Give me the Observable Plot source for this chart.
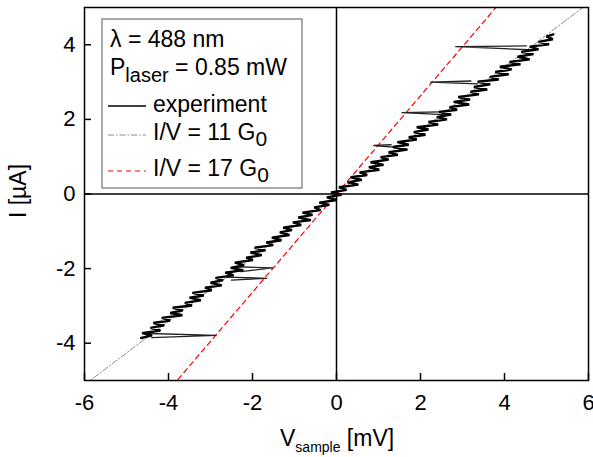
<!DOCTYPE html>
<html><head><meta charset="utf-8">
<script src="https://cdn.jsdelivr.net/npm/d3@7"></script>
<script src="https://cdn.jsdelivr.net/npm/@observablehq/plot@0.6"></script>
<style>body{margin:0;background:#fff} svg{display:block}</style>
</head><body><div id="chart"></div>
<script>
// conductance quantum in mS (= µA per mV)
const G0 = 0.0774809;
const xTicks = [-6, -4, -2, 0, 2, 4, 6];
const yTicks = [-4, -2, 0, 2, 4];
const refG = [11, 17];
const refV = [-6, 6];

// experiment trace (V in mV, I in µA)
const traceV = [-4.65,-4.39,-4.63,-4.19,-4.43,-4.10,-4.36,-3.96,-4.16,-3.67,
-3.96,-3.66,-3.90,-3.44,-3.61,-3.23,-3.50,-3.16,-3.43,-2.97,
-3.13,-2.73,-3.00,-2.70,-2.88,-2.45,-2.65,-2.22,-2.52,-2.20,
-2.42,-1.99,-2.15,-1.78,-2.05,-1.69,-1.95,-1.51,-1.67,-1.31,
-1.54,-1.12,-1.35,-1.06,-1.27,-0.84,-1.04,-0.61,-0.91,-0.57,
-0.81,-0.38,-0.53,-0.17,-0.41,0.01,-0.23,0.12,-0.13,0.24,
0.06,0.52,0.26,0.60,0.34,0.73,0.55,1.02,0.77,1.12,
0.81,1.24,1.05,1.46,1.24,1.69,1.34,1.72,1.45,1.91,
1.72,2.12,1.84,2.19,1.91,2.42,2.19,2.63,2.39,2.73,
2.44,2.87,2.69,3.16,2.79,3.18,2.90,3.39,3.19,3.59,
3.27,3.66,3.36,3.86,3.65,4.10,3.78,4.17,3.89,4.38,
4.12,4.60,4.31,4.69,4.40,4.81,4.60,5.06,4.81,5.15,
5.00,5.16];
const traceI = [-3.86,-3.79,-3.73,-3.66,-3.59,-3.52,-3.46,-3.39,-3.32,-3.25,
-3.19,-3.12,-3.05,-2.99,-2.92,-2.85,-2.78,-2.72,-2.65,-2.58,
-2.51,-2.45,-2.38,-2.31,-2.25,-2.18,-2.11,-2.04,-1.98,-1.91,
-1.84,-1.77,-1.71,-1.64,-1.57,-1.51,-1.44,-1.37,-1.30,-1.24,
-1.17,-1.10,-1.03,-0.97,-0.90,-0.83,-0.76,-0.70,-0.63,-0.56,
-0.50,-0.43,-0.36,-0.29,-0.23,-0.16,-0.09,-0.02,0.04,0.11,
0.18,0.25,0.31,0.38,0.45,0.51,0.58,0.65,0.72,0.78,
0.85,0.92,0.99,1.05,1.12,1.19,1.26,1.32,1.39,1.46,
1.52,1.59,1.66,1.73,1.79,1.86,1.93,2.00,2.06,2.13,
2.20,2.26,2.33,2.40,2.47,2.53,2.60,2.67,2.74,2.80,
2.87,2.94,3.01,3.07,3.14,3.21,3.27,3.34,3.41,3.48,
3.54,3.61,3.68,3.75,3.81,3.88,3.95,4.01,4.08,4.15,
4.22,4.28];

// switching jumps (narrow horizontal loops)
const jumpId = [1,1,1, 2,2,2, 3,3,3, 4,4,4, 5,5,5, 6,6,6, 7,7,7];
const jumpV = [4.52,2.84,4.72, 3.20,2.24,3.36, 2.46,1.56,2.56, 1.30,0.89,1.42, -2.42,-1.52,-2.28, -2.62,-1.66,-2.50, -4.45,-2.87,-4.40];
const jumpI = [3.97,3.95,3.86, 3.03,3.00,2.95, 2.20,2.18,2.13, 1.32,1.30,1.25, -1.95,-1.98,-2.08, -2.23,-2.26,-2.31, -3.74,-3.79,-3.85];

const W = 593, H = 457, mL = 84, mR = 5, mT = 7, mB = 77;
const pw = W - mL - mR, ph = H - mT - mB;

const trace = traceV.map((v, i) => ({V: v, I: traceI[i]}));
const jumps = jumpV.map((v, i) => ({id: jumpId[i], V: v, I: jumpI[i]}));
const ref = k => refV.map(v => ({V: v, I: refG[k] * G0 * v}));

const plot = Plot.plot({
  width: W, height: H, marginLeft: mL, marginRight: mR, marginTop: mT, marginBottom: mB,
  x: {domain: [-6, 6]}, y: {domain: [-5, 5]},
  style: {fontFamily: "'Liberation Sans', Arial, sans-serif", fontSize: "22px", color: "#000", background: "#fff", overflow: "visible"},
  marks: [
    Plot.ruleX([0], {stroke: "#000", strokeWidth: 1.5}),
    Plot.ruleY([0], {stroke: "#000", strokeWidth: 1.5}),
    Plot.line(ref(0), {x: "V", y: "I", stroke: "#8c8c8c", strokeWidth: 1, strokeDasharray: "6,2,1.5,2", clip: true}),
    Plot.line(ref(1), {x: "V", y: "I", stroke: "#ff0000", strokeWidth: 1.2, strokeDasharray: "5,4", clip: true}),
    Plot.line(jumps, {x: "V", y: "I", z: "id", stroke: "#222", strokeWidth: 1.3}),
    Plot.line(trace, {x: "V", y: "I", stroke: "#000", strokeWidth: 2.4, strokeLinejoin: "miter"}),
    Plot.tickX(xTicks, {x: d => d, insetTop: ph - 7, stroke: "#000", strokeWidth: 1.5}),
    Plot.tickY(yTicks, {y: d => d, insetRight: pw - 7, stroke: "#000", strokeWidth: 1.5}),
    Plot.axisX({ticks: xTicks, tickSize: 0, tickPadding: 14, tickFormat: d => String(d), label: null}),
    Plot.axisY({ticks: yTicks, tickSize: 0, tickPadding: 9, tickFormat: d => String(d), label: null}),
    Plot.frame({stroke: "#000", strokeWidth: 1.5})
  ]
});

const svg = d3.select(plot);
const F = "'Liberation Sans', Arial, sans-serif";
// axis titles
const xt = svg.append("text").attr("x", 280).attr("y", 446).attr("text-anchor", "start")
  .attr("font-family", F).attr("font-size", 23).attr("fill", "#000");
xt.append("tspan").text("V");
xt.append("tspan").attr("font-size", 14).attr("dy", 6).text("sample");
xt.append("tspan").attr("dy", -6).text(" [mV]");
svg.append("text").attr("transform", "translate(26,191) rotate(-90)").attr("text-anchor", "middle")
  .attr("font-family", F).attr("font-size", 23).attr("fill", "#000").text("I [µA]");

// legend
const lg = svg.append("g").attr("font-family", F).attr("font-size", 23).attr("fill", "#000").attr("text-anchor", "start");
lg.append("rect").attr("x", 102).attr("y", 19).attr("width", 200).attr("height", 169)
  .attr("fill", "#fff").attr("stroke", "#555").attr("stroke-width", 1);
lg.append("text").attr("x", 110).attr("y", 47).text("λ = 488 nm");
const pl = lg.append("text").attr("x", 110).attr("y", 75);
pl.append("tspan").text("P");
pl.append("tspan").attr("font-size", 20).attr("dy", 7).text("laser");
pl.append("tspan").attr("dy", -7).text(" = 0.85 mW");
const items = [
  {label: "experiment", sub: "", stroke: "#000", dash: null, w: 1.3, ly: 106, ty: 112},
  {label: "I/V = 11 G", sub: "0", stroke: "#8c8c8c", dash: "6,2,1.5,2", w: 1, ly: 135, ty: 140},
  {label: "I/V = 17 G", sub: "0", stroke: "#ff0000", dash: "5,4", w: 1.2, ly: 171, ty: 176}
];
for (const it of items) {
  lg.append("line").attr("x1", 108).attr("x2", 146).attr("y1", it.ly).attr("y2", it.ly)
    .attr("stroke", it.stroke).attr("stroke-width", it.w).attr("stroke-dasharray", it.dash);
  const t = lg.append("text").attr("x", 153).attr("y", it.ty);
  t.append("tspan").text(it.label);
  if (it.sub) t.append("tspan").attr("font-size", 21).attr("dy", 6).text(it.sub);
}
document.getElementById("chart").appendChild(plot);
</script>
</body></html>
